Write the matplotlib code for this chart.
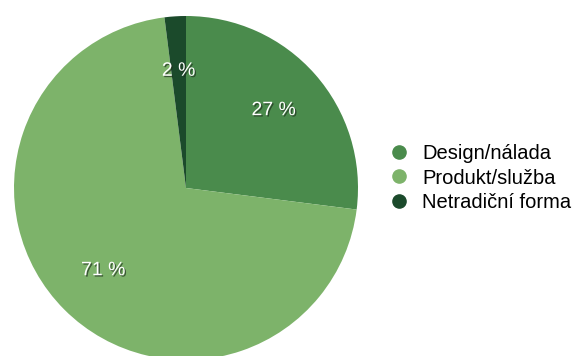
import matplotlib.pyplot as plt
import matplotlib.patheffects as pe
from matplotlib.lines import Line2D

plt.rcParams['font.family'] = ['Liberation Sans', 'DejaVu Sans']

# podíly odpovědí
kategorie = ['Design/nálada', 'Produkt/služba', 'Netradiční forma']
podily = [27, 71, 2]
barvy = ['#4a8b4c', '#7db36a', '#1b4a2b']

fig = plt.figure(figsize=(5.74, 3.56), dpi=100)
ax = fig.add_axes([0, 0, 1, 1])

wedges, texts, autotexts = ax.pie(
    podily, colors=barvy, startangle=90, counterclock=False,
    center=(186, 168), radius=172, autopct='%d %%', pctdistance=0.68,
    textprops={'color': 'white', 'fontsize': 14},
)
for t in autotexts:
    t.set_path_effects([pe.withSimplePatchShadow(offset=(1, -1), shadow_rgbFace='#203020', alpha=0.7)])

ax.set_xlim(0, 574)
ax.set_ylim(0, 356)
ax.set_aspect('equal')
ax.axis('off')

handles = [Line2D([], [], marker='o', linestyle='none', markersize=9.5,
                  markerfacecolor=c, markeredgecolor=c) for c in barvy]
ax.legend(handles, kategorie, loc='center left', bbox_to_anchor=(389, 178),
          bbox_transform=ax.transData, frameon=False, fontsize=14.5,
          handletextpad=0.65, labelspacing=0.27, handlelength=1.0, borderpad=0,
          borderaxespad=0)

fig.savefig('out.png', dpi=100)
